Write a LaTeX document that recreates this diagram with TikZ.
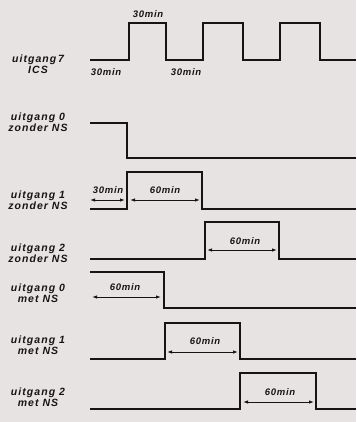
\documentclass[tikz,border=0pt]{standalone}
\usepackage{fontspec}
\setsansfont{Liberation Sans}
\usepackage{xcolor}
\usetikzlibrary{arrows.meta}
\definecolor{paper}{RGB}{231,227,226}
\definecolor{ink}{RGB}{22,20,20}

\begin{document}
\begin{tikzpicture}[x=1pt, y=-1pt,
	wave/.style={ink, line width=2pt, line join=miter},
	dimline/.style={ink, line width=0.9pt, {Latex[length=5pt,width=3.5pt]}-{Latex[length=5pt,width=3.5pt]}},
	sig/.style={ink, font=\fontsize{10.5}{11}\selectfont\sffamily\bfseries\itshape\addfontfeature{LetterSpace=10}, align=center},
	tlab/.style={ink, font=\fontsize{9.5}{10}\selectfont\sffamily\bfseries\itshape\addfontfeature{LetterSpace=8}, inner sep=0pt}]
	\fill[paper] (0,0) rectangle (356,422);
	\useasboundingbox (0,0) rectangle (356,422);

	% signal names
	\node[sig] (ics) at (38,64) {uitgang\,7\\ ICS};
	\node[sig] (zns0) at (38,122) {uitgang 0\\ zonder NS};
	\node[sig] (zns1) at (38,200) {uitgang 1\\ zonder NS};
	\node[sig] (zns2) at (38,253) {uitgang 2\\ zonder NS};
	\node[sig] (mns0) at (38,293) {uitgang 0\\ met NS};
	\node[sig] (mns1) at (38,345) {uitgang 1\\ met NS};
	\node[sig] (mns2) at (38,397) {uitgang 2\\ met NS};

	% uitgang 7 ICS
	\draw[wave] (90,60) -- (129,60) -- (129,23) -- (166,23) -- (166,60) -- (203,60)
		-- (203,23) -- (243,23) -- (243,60) -- (280,60) -- (280,23) -- (320,23)
		-- (320,60) -- (356,60);
	\node[tlab] (t7a) at (106,72) {30min};
	\node[tlab] (t7b) at (148,14) {30min};
	\node[tlab] (t7c) at (186,72) {30min};

	% zonder NS
	\draw[wave] (90,123) -- (127,123) -- (127,158) -- (356,158);
	\draw[wave] (90,209) -- (127,209) -- (127,172) -- (202,172) -- (202,209) -- (356,209);
	\draw[wave] (90,259) -- (205,259) -- (205,222) -- (279,222) -- (279,259) -- (356,259);

	\coordinate (a1) at (90,200);  \coordinate (a2) at (125,200);
	\coordinate (b1) at (130,200); \coordinate (b2) at (200,200);
	\coordinate (c1) at (207,250); \coordinate (c2) at (277,250);
	\draw[dimline] (a1) -- (a2);
	\draw[dimline] (b1) -- (b2);
	\draw[dimline] (c1) -- (c2);
	\node[tlab] (t1a) at (108,190) {30min};
	\node[tlab] (t1b) at (165,190) {60min};
	\node[tlab] (t2) at (245,241) {60min};

	% met NS
	\draw[wave] (90,272) -- (164,272) -- (164,308) -- (356,308);
	\draw[wave] (90,359) -- (165,359) -- (165,323) -- (240,323) -- (240,359) -- (356,359);
	\draw[wave] (90,409) -- (240,409) -- (240,373) -- (316,373) -- (316,409) -- (356,409);

	\coordinate (d1) at (92,297);  \coordinate (d2) at (161,297);
	\coordinate (e1) at (167,352); \coordinate (e2) at (238,352);
	\coordinate (f1) at (243,402); \coordinate (f2) at (314,402);
	\draw[dimline] (d1) -- (d2);
	\draw[dimline] (e1) -- (e2);
	\draw[dimline] (f1) -- (f2);
	\node[tlab] (m0) at (125,287) {60min};
	\node[tlab] (m1) at (205,341) {60min};
	\node[tlab] (m2) at (280,392) {60min};
\end{tikzpicture}
\end{document}
